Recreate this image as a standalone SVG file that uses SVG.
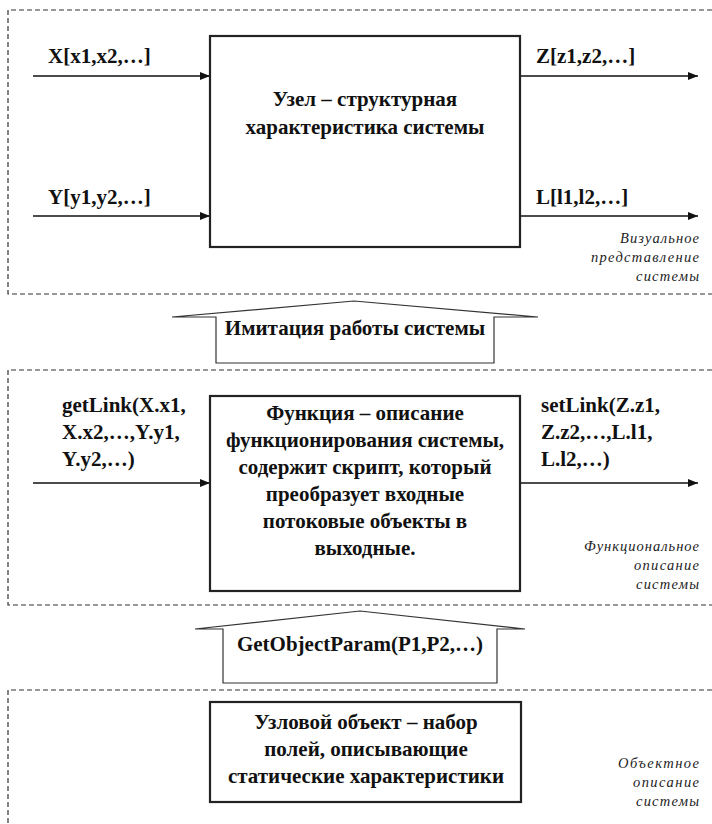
<svg xmlns="http://www.w3.org/2000/svg" width="712" height="824" viewBox="0 0 712 824">
<defs>
<marker id="ah" markerWidth="10" markerHeight="8" refX="10" refY="4" orient="auto" markerUnits="userSpaceOnUse">
<path d="M0,0 L10,4 L0,8 Z" fill="#111"/>
</marker>
<style>
.dash{fill:none;stroke:#333;stroke-width:1.2;stroke-dasharray:5,3}
.box{fill:#fff;stroke:#222;stroke-width:2.2}
.blk{fill:#fff;stroke:#333;stroke-width:1.2}
.ln{fill:none;stroke:#111;stroke-width:1.3;marker-end:url(#ah)}
.t{font-family:"Liberation Serif","Times New Roman",serif;font-weight:bold;font-size:21px;fill:#111}
.c{text-anchor:middle}
.it{font-family:"Liberation Serif","Times New Roman",serif;font-style:italic;font-size:14.5px;fill:#222;text-anchor:end}
</style>
</defs>
<rect width="712" height="824" fill="#fff"/>

<g id="layers">
<path class="dash" d="M712,10 H8 V294 H712"/>
<path class="dash" d="M712,370 H8 V605 H712"/>
<path class="dash" d="M712,690 H8 V824"/>
</g>

<g id="connectors">
<line class="ln" x1="33" y1="76" x2="210" y2="76"/>
<line class="ln" x1="33" y1="216" x2="210" y2="216"/>
<line class="ln" x1="520" y1="76" x2="698" y2="76"/>
<line class="ln" x1="520" y1="216" x2="698" y2="216"/>
<line class="ln" x1="33" y1="483" x2="210" y2="483"/>
<line class="ln" x1="520" y1="483" x2="698" y2="483"/>
<text class="t" x="48" y="63">X[x1,x2,…]</text>
<text class="t" x="48" y="204">Y[y1,y2,…]</text>
<text class="t" x="536" y="63">Z[z1,z2,…]</text>
<text class="t" x="536" y="204">L[l1,l2,…]</text>
<text class="t" x="62" y="412">getLink(X.x1,</text>
<text class="t" x="62" y="439">X.x2,…,Y.y1,</text>
<text class="t" x="62" y="466">Y.y2,…)</text>
<text class="t" x="541" y="412">setLink(Z.z1,</text>
<text class="t" x="541" y="439">Z.z2,…,L.l1,</text>
<text class="t" x="541" y="466">L.l2,…)</text>
</g>

<g id="node-uzel">
<rect class="box" x="210" y="36" width="310" height="211"/>
<text class="t c" x="365" y="106">Узел – структурная</text>
<text class="t c" x="365" y="134">характеристика системы</text>
</g>

<g id="label-visual">
<text class="it" x="699" y="243" textLength="79" lengthAdjust="spacing">Визуальное</text>
<text class="it" x="699" y="262" textLength="108" lengthAdjust="spacing">представление</text>
<text class="it" x="699" y="281" textLength="63" lengthAdjust="spacing">системы</text>
</g>

<g id="arrow-imitation">
<polygon class="blk" points="216,363 216,317 172,317 354,301 538,317 494,317 494,363"/>
<text class="t c" x="355" y="335">Имитация работы системы</text>
</g>

<g id="node-function">
<rect class="box" x="210" y="396" width="310" height="195"/>
<text class="t c" x="365" y="420">Функция – описание</text>
<text class="t c" x="365" y="447">функционирования системы,</text>
<text class="t c" x="365" y="474">содержит скрипт, который</text>
<text class="t c" x="365" y="501">преобразует входные</text>
<text class="t c" x="365" y="528">потоковые объекты в</text>
<text class="t c" x="365" y="555">выходные.</text>
</g>

<g id="label-function">
<text class="it" x="699" y="551" textLength="115" lengthAdjust="spacing">Функциональное</text>
<text class="it" x="699" y="570" textLength="65" lengthAdjust="spacing">описание</text>
<text class="it" x="699" y="589" textLength="63" lengthAdjust="spacing">системы</text>
</g>

<g id="arrow-getparam">
<polygon class="blk" points="223,683 223,629 195,629 360,611 525,629 497,629 497,683"/>
<text class="t c" x="360" y="651">GetObjectParam(P1,P2,…)</text>
</g>

<g id="node-object">
<rect class="box" x="210" y="702" width="311" height="100"/>
<text class="t c" x="366" y="729">Узловой объект – набор</text>
<text class="t c" x="366" y="756">полей, описывающие</text>
<text class="t c" x="366" y="783">статические характеристики</text>
</g>

<g id="label-object">
<text class="it" x="699" y="768" textLength="81" lengthAdjust="spacing">Объектное</text>
<text class="it" x="699" y="787" textLength="66" lengthAdjust="spacing">описание</text>
<text class="it" x="699" y="806" textLength="63" lengthAdjust="spacing">системы</text>
</g>
</svg>
